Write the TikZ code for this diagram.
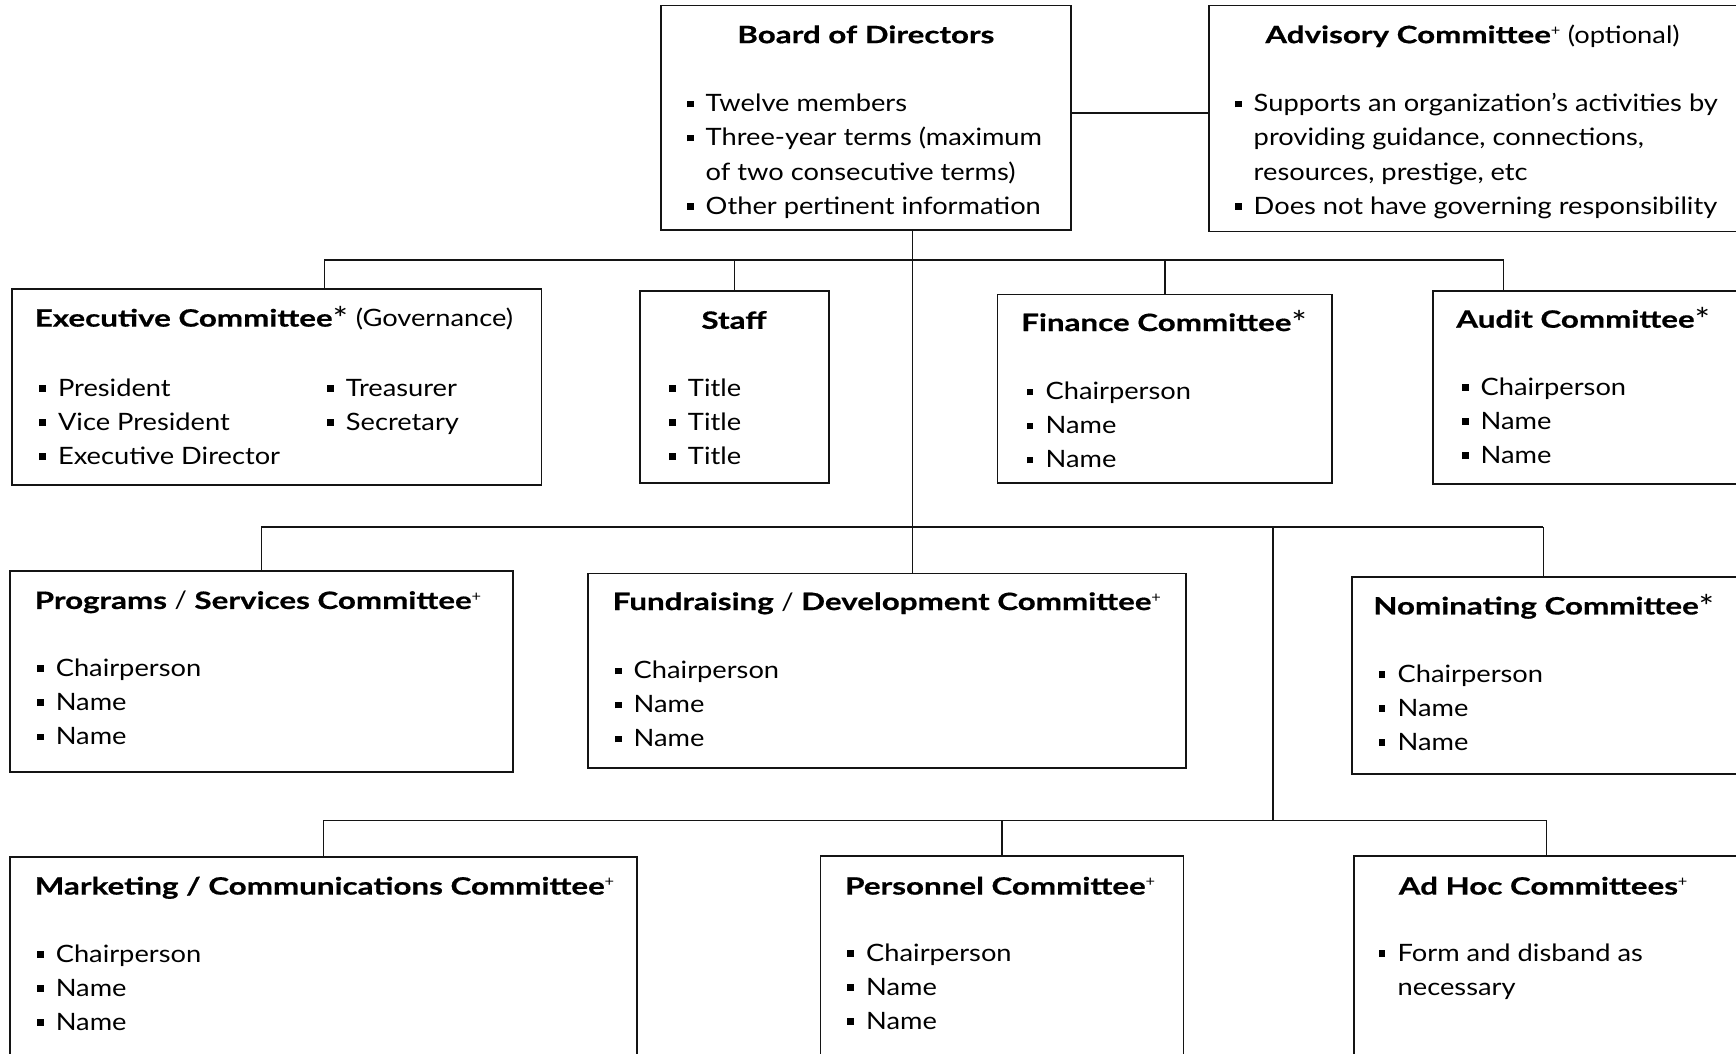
\documentclass[tikz,border=0pt]{standalone}
\usepackage{fontspec}
\setmainfont{Lato}[FakeStretch=1.14,BoldFeatures={FakeStretch=1.31,FakeBold=0.6}]
\usepackage{tikz}
\usetikzlibrary{fit}
\usepackage{xcolor}
\definecolor{ColLine}{RGB}{20,20,20}
\definecolor{ColText}{RGB}{0,0,0}
\newcommand{\OrgFont}{\fontsize{10.8}{15.4}\selectfont}
\newcommand{\Bul}{\makebox[8.5pt][l]{\rule[2pt]{3pt}{3pt}}}
\newcommand{\Ind}{\hspace*{8.5pt}}
\newcommand{\Plus}{\raisebox{3.5pt}{\normalfont\fontsize{6.5}{6.5}\selectfont+}}
\newcommand{\Ast}{\raisebox{-1.6pt}{\normalfont\fontsize{14.5}{14.5}\selectfont*}}
\tikzstyle{BoxOrg}=[rectangle,draw=ColLine,line width=0.8pt,inner sep=0pt]
\tikzstyle{TitleOrg}=[inner sep=0pt,text=ColText,font=\OrgFont\bfseries]
\tikzstyle{ListOrg}=[inner sep=0pt,anchor=base west,text=ColText,font=\OrgFont]
\tikzstyle{EdgeOrg}=[ColLine,line width=0.7pt]

\begin{document}
\begin{tikzpicture}[x=0.5pt,y=-0.5pt]
        \path[use as bounding box] (0,0) rectangle (1568,952);
        \clip (0,0) rectangle (1568,952);
        % boxes
        \node[BoxOrg,fit={(597,5) (967,208)}](bod){};
        \node[BoxOrg,fit={(1092,5) (1590,209)}](adv){};
        \node[BoxOrg,fit={(11,261) (489,438)}](exe){};
        \node[BoxOrg,fit={(578,263) (749,436)}](stf){};
        \node[BoxOrg,fit={(901,266) (1203,436)}](fin){};
        \node[BoxOrg,fit={(1294,263) (1590,437)}](aud){};
        \node[BoxOrg,fit={(9,516) (463,697)}](prg){};
        \node[BoxOrg,fit={(531,518) (1071,694)}](fnd){};
        \node[BoxOrg,fit={(1221,521) (1590,699)}](nom){};
        \node[BoxOrg,fit={(9,774) (575,970)}](mkt){};
        \node[BoxOrg,fit={(741,773) (1069,970)}](prs){};
        \node[BoxOrg,fit={(1223,773) (1590,970)}](adh){};
        % titles
        \node[TitleOrg,anchor=base](bod-h)at(782,39){Board of Directors};
        \node[TitleOrg,anchor=base](adv-h)at(1330,39){Advisory Committee\Plus{} {\normalfont(optional)}};
        \node[TitleOrg,anchor=base west](exe-h)at(31,295){Executive Committee\Ast{} {\normalfont(Governance)}};
        \node[TitleOrg,anchor=base](stf-h)at(663,297){Staff};
        \node[TitleOrg,anchor=base west](fin-h)at(922,299){Finance Committee\Ast};
        \node[TitleOrg,anchor=base west](aud-h)at(1315,296){Audit Committee\Ast};
        \node[TitleOrg,anchor=base west](prg-h)at(31,550){Programs {\normalfont/} Services Committee\Plus};
        \node[TitleOrg,anchor=base west](fnd-h)at(553,551){Fundraising {\normalfont/} Development Committee\Plus};
        \node[TitleOrg,anchor=base west](nom-h)at(1240,555){Nominating Committee\Ast};
        \node[TitleOrg,anchor=base west](mkt-h)at(31,808){Marketing / Communications Committee\Plus};
        \node[TitleOrg,anchor=base west](prs-h)at(763,808){Personnel Committee\Plus};
        \node[TitleOrg,anchor=base west](adh-h)at(1263,808){Ad Hoc Committees\Plus};
        % lists
        \node[ListOrg](bod-l)at(620,101){\begin{tabular}[t]{@{}l@{}}
            \Bul Twelve members\\
            \Bul Three-year terms (maximum\\
            \Ind of two consecutive terms)\\
            \Bul Other pertinent information\end{tabular}};
        \node[ListOrg](adv-l)at(1115,101){\begin{tabular}[t]{@{}l@{}}
            \Bul Supports an organization’s activities by\\
            \Ind providing guidance, connections,\\
            \Ind resources, prestige, etc\\
            \Bul Does not have governing responsibility\end{tabular}};
        \node[ListOrg](exe-l)at(35,358){\begin{tabular}[t]{@{}l@{}}
            \makebox[130pt][l]{\Bul President}\Bul Treasurer\\
            \makebox[130pt][l]{\Bul Vice President}\Bul Secretary\\
            \Bul Executive Director\end{tabular}};
        \node[ListOrg](stf-l)at(604,358){\begin{tabular}[t]{@{}l@{}}
            \Bul Title\\ \Bul Title\\ \Bul Title\end{tabular}};
        \node[ListOrg](fin-l)at(927,361){\begin{tabular}[t]{@{}l@{}}
            \Bul Chairperson\\ \Bul Name\\ \Bul Name\end{tabular}};
        \node[ListOrg](aud-l)at(1320,357){\begin{tabular}[t]{@{}l@{}}
            \Bul Chairperson\\ \Bul Name\\ \Bul Name\end{tabular}};
        \node[ListOrg](prg-l)at(33,611){\begin{tabular}[t]{@{}l@{}}
            \Bul Chairperson\\ \Bul Name\\ \Bul Name\end{tabular}};
        \node[ListOrg](fnd-l)at(555,613){\begin{tabular}[t]{@{}l@{}}
            \Bul Chairperson\\ \Bul Name\\ \Bul Name\end{tabular}};
        \node[ListOrg](nom-l)at(1245,616){\begin{tabular}[t]{@{}l@{}}
            \Bul Chairperson\\ \Bul Name\\ \Bul Name\end{tabular}};
        \node[ListOrg](mkt-l)at(33,869){\begin{tabular}[t]{@{}l@{}}
            \Bul Chairperson\\ \Bul Name\\ \Bul Name\end{tabular}};
        \node[ListOrg](prs-l)at(765,868){\begin{tabular}[t]{@{}l@{}}
            \Bul Chairperson\\ \Bul Name\\ \Bul Name\end{tabular}};
        \node[ListOrg](adh-l)at(1245,868){\begin{tabular}[t]{@{}l@{}}
            \Bul Form and disband as\\
            \Ind necessary\end{tabular}};
        % bus points
        \coordinate(ad)at(1000,102);
        \coordinate(top)at(824,235);
        \coordinate(b1w)at(293,235);
        \coordinate(b1e)at(1358,235);
        \coordinate(b2e)at(1394,476);
        \coordinate(b2j)at(1150,476);
        \coordinate(b3e)at(1397,741);
        % connectors
        \draw[EdgeOrg](bod.east|-ad)--(adv.west|-ad);
        \draw[EdgeOrg](bod.south-|top)--(fnd.north-|top);
        \draw[EdgeOrg](b1w)--(b1e);
        \draw[EdgeOrg](b1w)--(b1w|-exe.north);
        \draw[EdgeOrg](stf.north|-b1w)--(stf.north);
        \draw[EdgeOrg](fin.north|-b1w)--(fin.north);
        \draw[EdgeOrg](b1e)--(b1e|-aud.north);
        \draw[EdgeOrg](prg.north|-b2e)--(b2e);
        \draw[EdgeOrg](prg.north|-b2e)--(prg.north);
        \draw[EdgeOrg](b2e)--(b2e|-nom.north);
        \draw[EdgeOrg](b2j)--(b2j|-b3e);
        \draw[EdgeOrg](mkt.north|-b3e)--(b3e);
        \draw[EdgeOrg](mkt.north|-b3e)--(mkt.north);
        \draw[EdgeOrg](prs.north|-b3e)--(prs.north);
        \draw[EdgeOrg](b3e)--(b3e|-adh.north);
    \end{tikzpicture}
\end{document}
